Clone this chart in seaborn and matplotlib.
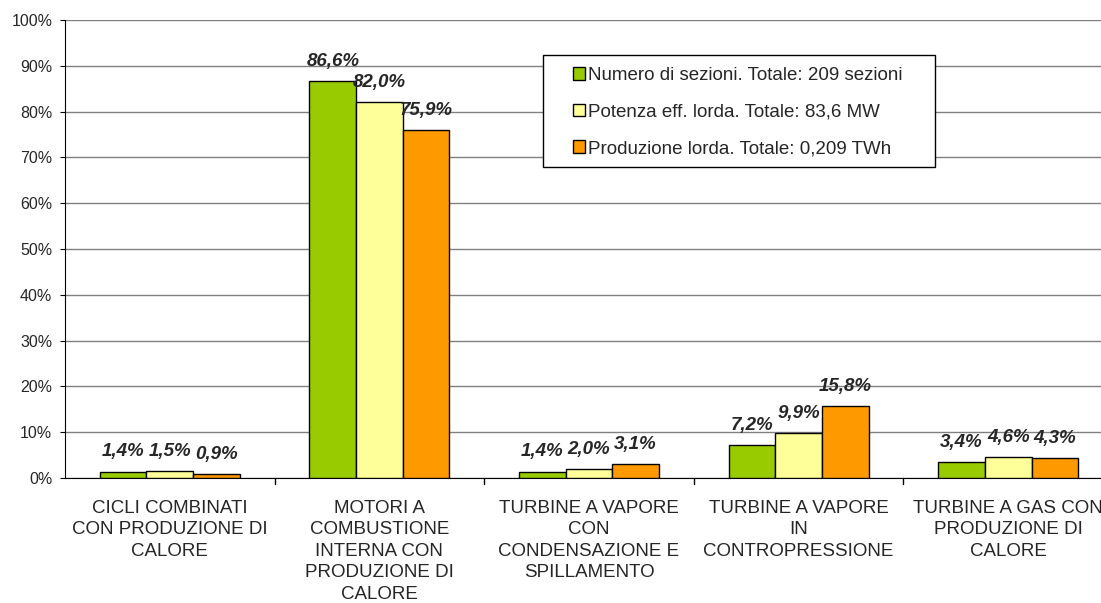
import matplotlib
matplotlib.use("Agg")
import matplotlib.pyplot as plt
import seaborn as sns
import pandas as pd
from matplotlib.patches import Rectangle
from matplotlib.ticker import MultipleLocator, FuncFormatter

categories = [
    "CICLI COMBINATI\nCON PRODUZIONE DI\nCALORE",
    "MOTORI A\nCOMBUSTIONE\nINTERNA CON\nPRODUZIONE DI\nCALORE",
    "TURBINE A VAPORE\nCON\nCONDENSAZIONE E\nSPILLAMENTO",
    "TURBINE A VAPORE\nIN\nCONTROPRESSIONE",
    "TURBINE A GAS CON\nPRODUZIONE DI\nCALORE",
]
series = [
    "Numero di sezioni. Totale: 209 sezioni",
    "Potenza eff. lorda. Totale: 83,6 MW",
    "Produzione lorda. Totale: 0,209 TWh",
]
numero = [1.4, 86.6, 1.4, 7.2, 3.4]
potenza = [1.5, 82.0, 2.0, 9.9, 4.6]
produzione = [0.9, 75.9, 3.1, 15.8, 4.3]
colors = ["#99CC00", "#FFFF99", "#FF9900"]

df = pd.DataFrame({
    "cat": categories * 3,
    "serie": [s for s in series for _ in categories],
    "val": numero + potenza + produzione,
})

sns.set_style("white")
plt.rcParams["font.family"] = ["Liberation Sans", "DejaVu Sans"]

fig = plt.figure(figsize=(11.01, 6.03), dpi=100)
ax = fig.add_axes([65 / 1101, 1 - 478 / 603, 1048 / 1101, 458 / 603])

sns.barplot(data=df, x="cat", y="val", hue="serie", palette=colors,
            width=0.667, edgecolor="black", linewidth=1.0, saturation=1,
            ax=ax, zorder=3)

for cont in ax.containers:
    ax.bar_label(cont, labels=[f"{b.get_height():.1f}%".replace(".", ",") for b in cont],
                 padding=8, fontsize=13.5, fontweight="bold", fontstyle="italic")

ax.set_ylim(0, 100)
ax.set_xlim(-0.5, 4.5)
ax.yaxis.set_major_locator(MultipleLocator(10))
ax.yaxis.set_major_formatter(FuncFormatter(lambda v, p: f"{v:.0f}%"))
ax.grid(axis="y", color="#808080", linewidth=1.0, zorder=0)
ax.set_axisbelow(True)
ax.set_xlabel("")
ax.set_ylabel("")
for s in ["top", "right"]:
    ax.spines[s].set_visible(False)
ax.spines["left"].set_color("black")
ax.spines["bottom"].set_color("black")
ax.tick_params(axis="y", left=True, length=3.6, color="black", labelsize=11.5, pad=5.5)
ax.tick_params(axis="x", bottom=False, labelsize=13.5, pad=12)
for lab in ax.get_xticklabels():
    lab.set_linespacing(1.35)
    lab.set_verticalalignment("top")
# category separator ticks
for xb in [0.5, 1.5, 2.5, 3.5]:
    ax.plot([xb, xb], [0, -1.3], color="black", linewidth=1, clip_on=False)

# legend: frame drawn separately so padding matches the original box
fig.patches.append(Rectangle((543 / 1101, 1 - 167 / 603), 392 / 1101, 112 / 603,
                             transform=fig.transFigure, facecolor="white",
                             edgecolor="black", linewidth=1.0, zorder=5))
handles, labels = ax.get_legend_handles_labels()
ax.legend_.remove()
leg = fig.legend(handles, labels, loc="upper left",
                 bbox_to_anchor=(573 / 1101, 1 - 67 / 603), fontsize=13.5,
                 frameon=False, handlelength=0.65, handleheight=0.65,
                 handletextpad=0.15, labelspacing=1.04, borderpad=0,
                 borderaxespad=0)
leg.set_zorder(6)

fig.savefig("out.png", dpi=100)
